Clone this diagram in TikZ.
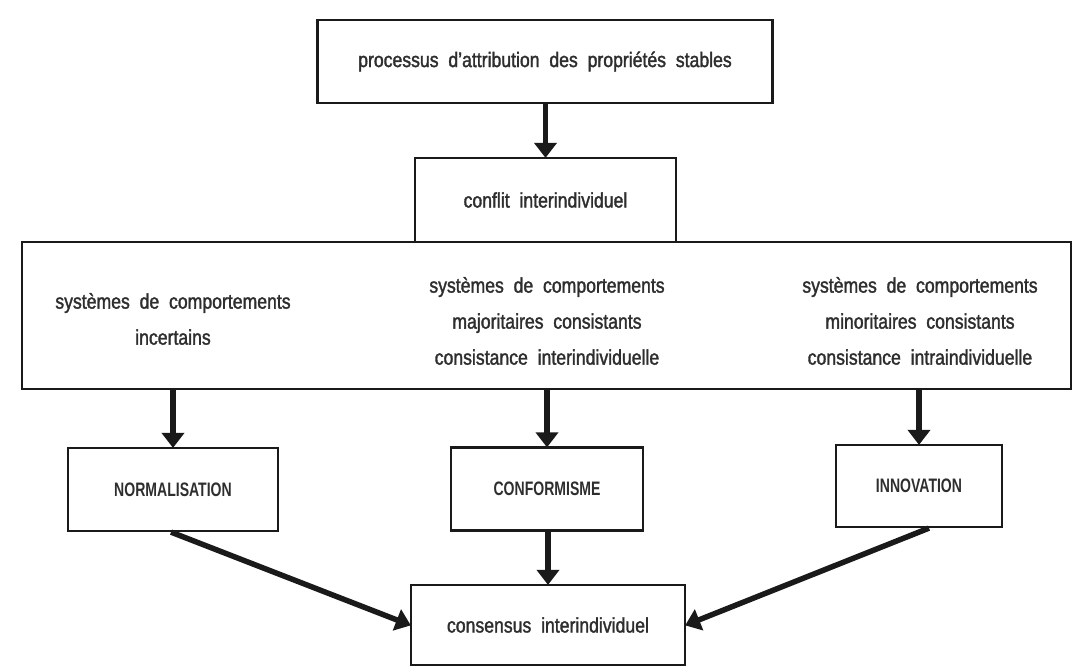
\documentclass[tikz,border=0pt]{standalone}
\usepackage{fontspec}
\setmainfont[FakeStretch=0.84,FakeBold=1.6]{Liberation Sans}
\newfontfamily\capsfont[FakeStretch=0.72]{Liberation Sans Bold}
\usetikzlibrary{arrows.meta}
\definecolor{ink}{HTML}{1A1A1A}
\definecolor{txt}{HTML}{2E2E2E}
\tikzset{
  box/.style={draw=ink, line width=2.2pt, inner sep=0pt, text=txt,
    font=\fontsize{21}{36}\selectfont},
  label/.style={inner sep=0pt, text=txt, align=center,
    font=\fontsize{21}{36}\selectfont},
  caps/.style={font=\capsfont\fontsize{19.5}{22}\selectfont},
  flow/.style={draw=ink, line width=5.5pt,
    -{Triangle[width=22pt,length=15pt]}, shorten >=-1pt}
}
\begin{document}
\begin{tikzpicture}[x=1pt,y=-1pt]
  \useasboundingbox (0,0) rectangle (1079,667);

  % top of the chain
  \node[box, minimum width=455pt, minimum height=83pt] (attr) at (545,61.5)
    {processus\ \ d'attribution\ \ des\ \ propriétés\ \ stables};
  \node[box, minimum width=261pt, minimum height=84pt] (conf) at (545.5,200)
    {conflit\ \ interindividuel};

  % the three systems of behaviour
  \node[box, minimum width=1049pt, minimum height=147pt] (sys) at (546.5,315.5) {};
  \node[label] (incert) at (173,319)
    {systèmes\ \ de\ \ comportements\\incertains};
  \node[label] (major) at (547,321)
    {systèmes\ \ de\ \ comportements\\majoritaires\ \ consistants\\consistance\ \ interindividuelle};
  \node[label] (minor) at (920,321)
    {systèmes\ \ de\ \ comportements\\minoritaires\ \ consistants\\consistance\ \ intraindividuelle};

  % the three modes of influence
  \node[box, caps, minimum width=210pt, minimum height=83pt] (norm) at (173,489.5) {NORMALISATION};
  \node[box, caps, minimum width=192pt, minimum height=83pt] (cform) at (547,489) {CONFORMISME};
  \node[box, caps, minimum width=166pt, minimum height=82pt] (innov) at (919,486) {INNOVATION};

  % outcome
  \node[box, minimum width=274pt, minimum height=80pt] (cons) at (548,625)
    {consensus\ \ interindividuel};

  % connectors
  \draw[flow] (attr.south -| conf.north) -- (conf.north);
  \draw[flow] (norm.north |- sys.south) -- (norm.north);
  \draw[flow] (cform.north |- sys.south) -- (cform.north);
  \draw[flow] (innov.north |- sys.south) -- (innov.north);
  \draw[flow] (cform.south -| cons.north) -- (cons.north);
  \draw[flow] ([xshift=-2pt]norm.south) -- (cons.west);
  \draw[flow] ([xshift=10pt]innov.south) -- (cons.east);
\end{tikzpicture}
\end{document}
